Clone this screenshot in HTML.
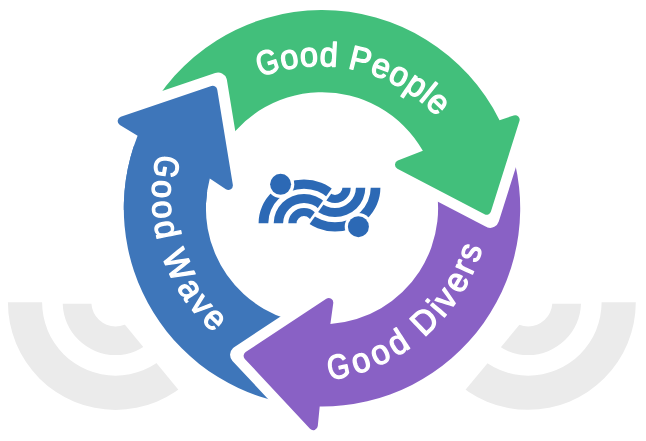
<!DOCTYPE html>
<html><head><meta charset="utf-8"><style>
html,body{margin:0;padding:0;background:#fff;}
body{width:646px;height:441px;overflow:hidden;font-family:"Liberation Sans",sans-serif;}
svg{display:block}
</style></head><body>
<svg width="646" height="441" viewBox="0 0 646 441">
<defs>
<clipPath id="cl"><path d="M-32.20,133.60 L284.00,518.20 L-400.0,518.2 L-400.0,133.6 Z"/></clipPath>
<clipPath id="cr"><path d="M678.20,133.80 L359.00,517.80 L1100.0,517.8 L1100.0,133.8 Z"/></clipPath>
<clipPath id="q"><rect x="0" y="0" width="322" height="210"/></clipPath>
<clipPath id="lg1"><path d="M204.00,367.57 L436.28,41.92 L192.05,-132.29 L-40.23,193.36 Z"/></clipPath>
<clipPath id="lg2"><path d="M206.12,369.08 L438.40,43.43 L682.63,217.64 L450.35,543.29 Z"/></clipPath>
<mask id="dm" maskUnits="userSpaceOnUse" x="0" y="0" width="646" height="441"><rect width="646" height="441" fill="#fff"/><circle cx="280.60" cy="184.30" r="13.7" fill="#000"/><circle cx="358.40" cy="226.70" r="13.7" fill="#000"/></mask>
<path id="a1" d="M196.43,135.80 A145.00,145.00 0 0 1 467.00,208.30"/>
<path id="a2" d="M193.30,316.29 A168.00,168.00 0 0 0 467.49,124.30"/>
<path id="a3" d="M264.54,50.43 A168.00,168.00 0 0 0 351.17,373.75"/>
<path id="pb" d="M304.73,405.75 A198.20,198.20 0 0 1 137.59,135.66 L119.86,124.91 A4.5,4.5 0 0 1 120.75,116.80 L211.37,86.10 A4.5,4.5 0 0 1 217.26,89.64 L232.83,184.71 A4.5,4.5 0 0 1 225.90,189.18 L209.80,178.48 A116.10,116.10 0 0 0 311.88,323.96 Z"/>
<path id="pp" d="M508.25,140.51 A198.20,198.20 0 0 1 319.70,406.49 L317.78,426.09 A4.5,4.5 0 0 1 310.01,428.72 L244.83,358.89 A4.5,4.5 0 0 1 245.65,352.07 L326.31,298.87 A4.5,4.5 0 0 1 333.25,303.24 L330.38,324.10 A116.10,116.10 0 0 0 431.10,168.59 Z"/>
<path id="pg" d="M143.86,121.41 A198.20,198.20 0 0 1 499.54,120.18 L513.72,115.42 A4.5,4.5 0 0 1 519.44,121.04 L490.91,211.58 A4.5,4.5 0 0 1 484.54,214.22 L397.38,168.77 A4.5,4.5 0 0 1 397.82,160.59 L422.86,150.80 A116.10,116.10 0 0 0 217.65,157.41 Z"/>
</defs>
<rect width="646" height="441" fill="#fff"/>
<g fill="#ebebeb" clip-path="url(#cl)">
<path d="M62.72,303.70 A52.80,52.80 0 0 0 168.28,303.70 L139.56,303.70 A24.10,24.10 0 0 1 91.44,303.70 Z"/>
<path d="M7.90,302.30 A107.60,107.60 0 0 0 223.10,302.30 L188.90,302.30 A73.40,73.40 0 0 1 42.10,302.30 Z"/>
</g>
<g fill="#ebebeb" clip-path="url(#cr)">
<path d="M475.42,303.70 A52.80,52.80 0 0 0 580.98,303.70 L552.26,303.70 A24.10,24.10 0 0 1 504.14,303.70 Z"/>
<path d="M420.60,302.30 A107.60,107.60 0 0 0 635.80,302.30 L601.60,302.30 A73.40,73.40 0 0 1 454.80,302.30 Z"/>
</g>
<g stroke-linejoin="round">
<use href="#pb" fill="#3e76ba"/>
<path d="M317.82,439.14 L239.05,354.74 L336.37,290.56Z" fill="#fff" stroke="#fff" stroke-width="18.0"/>
<use href="#pp" fill="#8961c5"/>
<path d="M524.47,110.08 L490.19,218.86 L384.97,164.00Z" fill="#fff" stroke="#fff" stroke-width="18.0"/>
<use href="#pg" fill="#42bf7b"/>
<g clip-path="url(#q)">
<path d="M106.67,119.35 L218.07,81.62 L237.31,199.08Z" fill="#fff" stroke="#fff" stroke-width="18.0"/>
<use href="#pb" fill="#3e76ba"/>
</g>
</g>
<g fill="#fff" stroke="#fff" stroke-width="1.4" stroke-linejoin="round">
<path d="M258.16,65.00 L257.68,63.24 L257.37,61.57 L257.25,59.99 L257.30,58.51 L257.52,57.13 L257.93,55.84 L258.50,54.66 L259.23,53.61 L260.12,52.69 L261.18,51.91 L262.39,51.26 L263.76,50.73 L264.76,50.46 L265.72,50.27 L266.63,50.18 L267.51,50.17 L268.34,50.25 L269.13,50.43 L269.89,50.69 L270.62,51.06 L271.33,51.52 L272.02,52.09 L272.69,52.75 L273.33,53.51 L271.22,55.11 L270.75,54.59 L270.27,54.14 L269.77,53.76 L269.25,53.45 L268.72,53.20 L268.18,53.02 L267.62,52.90 L267.03,52.85 L266.43,52.85 L265.80,52.92 L265.14,53.04 L264.47,53.23 L263.47,53.61 L262.59,54.10 L261.84,54.69 L261.21,55.39 L260.70,56.19 L260.32,57.09 L260.07,58.09 L259.94,59.16 L259.94,60.31 L260.06,61.53 L260.32,62.83 L260.70,64.21 L261.17,65.55 L261.72,66.77 L262.33,67.85 L263.01,68.80 L263.76,69.63 L264.58,70.32 L265.45,70.87 L266.36,71.26 L267.30,71.49 L268.27,71.55 L269.27,71.46 L270.31,71.21 L270.90,71.01 L271.47,70.77 L272.01,70.50 L272.52,70.19 L273.01,69.86 L273.48,69.49 L273.91,69.10 L274.30,68.69 L274.65,68.26 L274.95,67.82 L275.22,67.36 L275.44,66.89 L274.18,62.86 L271.42,63.73 L268.67,64.59 L267.87,62.06 L271.78,60.83 L275.69,59.61 L276.90,63.46 L278.10,67.31 L277.78,68.04 L277.40,68.75 L276.98,69.42 L276.50,70.06 L275.97,70.66 L275.39,71.23 L274.76,71.76 L274.10,72.24 L273.40,72.67 L272.67,73.05 L271.89,73.38 L271.08,73.67 L270.13,73.92 L269.19,74.09 L268.28,74.16 L267.39,74.15 L266.51,74.04 L265.66,73.84 L264.83,73.55 L264.04,73.18 L263.28,72.72 L262.55,72.17 L261.86,71.54 L261.20,70.83 L260.58,70.03 L260.00,69.17 L259.47,68.23 L258.99,67.23 L258.55,66.15 L258.16,65.00Z M296.85,58.29 L297.06,59.78 L297.14,61.16 L297.08,62.42 L296.90,63.58 L296.58,64.62 L296.14,65.55 L295.57,66.36 L294.87,67.07 L294.06,67.67 L293.13,68.16 L292.08,68.55 L290.91,68.82 L289.72,68.97 L288.61,68.96 L287.57,68.81 L286.61,68.50 L285.73,68.05 L284.93,67.45 L284.20,66.71 L283.56,65.83 L283.00,64.81 L282.53,63.67 L282.14,62.38 L281.83,60.96 L281.54,58.13 L281.76,55.73 L282.49,53.76 L283.73,52.23 L285.48,51.13 L287.73,50.47 L288.97,50.31 L290.12,50.30 L291.17,50.43 L292.14,50.70 L293.01,51.12 L293.80,51.69 L294.50,52.40 L295.12,53.27 L295.67,54.29 L296.14,55.47 L296.53,56.80 L296.85,58.29Z M293.91,58.81 L293.68,57.65 L293.40,56.61 L293.09,55.69 L292.74,54.90 L292.36,54.23 L291.93,53.67 L291.46,53.23 L290.92,52.90 L290.33,52.68 L289.67,52.55 L288.95,52.54 L288.17,52.63 L287.39,52.82 L286.71,53.08 L286.13,53.43 L285.63,53.86 L285.23,54.37 L284.92,54.96 L284.69,55.63 L284.55,56.40 L284.48,57.27 L284.50,58.23 L284.59,59.29 L284.77,60.44 L285.00,61.55 L285.27,62.56 L285.58,63.45 L285.94,64.24 L286.34,64.93 L286.78,65.50 L287.27,65.97 L287.81,66.32 L288.40,66.57 L289.05,66.71 L289.74,66.74 L290.49,66.65 L291.28,66.46 L291.97,66.19 L292.57,65.84 L293.07,65.41 L293.47,64.90 L293.78,64.31 L294.00,63.63 L294.14,62.86 L294.20,61.99 L294.18,61.03 L294.09,59.96 L293.91,58.81Z M316.57,56.82 L316.61,58.33 L316.53,59.71 L316.33,60.96 L316.01,62.08 L315.58,63.08 L315.03,63.95 L314.37,64.70 L313.60,65.32 L312.72,65.83 L311.74,66.21 L310.65,66.47 L309.46,66.60 L308.26,66.61 L307.15,66.48 L306.14,66.20 L305.23,65.79 L304.40,65.24 L303.67,64.55 L303.04,63.73 L302.50,62.78 L302.07,61.71 L301.73,60.52 L301.49,59.19 L301.35,57.75 L301.39,54.90 L301.88,52.54 L302.83,50.67 L304.24,49.29 L306.10,48.40 L308.42,48.00 L309.66,47.99 L310.81,48.11 L311.84,48.36 L312.77,48.75 L313.59,49.27 L314.30,49.92 L314.91,50.71 L315.43,51.64 L315.86,52.72 L316.19,53.94 L316.43,55.31 L316.57,56.82Z M313.59,57.00 L313.49,55.82 L313.34,54.76 L313.14,53.81 L312.88,52.98 L312.58,52.27 L312.22,51.67 L311.80,51.18 L311.31,50.79 L310.74,50.50 L310.10,50.30 L309.39,50.20 L308.60,50.21 L307.81,50.30 L307.10,50.49 L306.48,50.76 L305.94,51.13 L305.48,51.59 L305.11,52.14 L304.80,52.79 L304.57,53.53 L304.41,54.39 L304.31,55.34 L304.28,56.40 L304.32,57.57 L304.42,58.70 L304.58,59.73 L304.79,60.66 L305.05,61.48 L305.37,62.21 L305.74,62.83 L306.17,63.35 L306.67,63.77 L307.23,64.08 L307.85,64.29 L308.54,64.40 L309.29,64.40 L310.10,64.30 L310.82,64.12 L311.45,63.84 L312.00,63.47 L312.46,63.01 L312.83,62.46 L313.12,61.81 L313.35,61.05 L313.51,60.20 L313.61,59.24 L313.64,58.17 L313.59,57.00Z M332.34,63.55 L332.04,64.08 L331.71,64.55 L331.35,64.98 L330.96,65.34 L330.56,65.65 L330.12,65.90 L329.66,66.10 L329.16,66.26 L328.64,66.38 L328.08,66.45 L327.48,66.48 L326.86,66.47 L325.83,66.35 L324.91,66.11 L324.09,65.74 L323.37,65.26 L322.75,64.65 L322.24,63.92 L321.82,63.07 L321.49,62.09 L321.26,60.98 L321.11,59.75 L321.06,58.39 L321.10,56.91 L321.43,54.05 L322.08,51.73 L323.05,49.96 L324.35,48.72 L325.96,48.03 L327.88,47.87 L328.51,47.93 L329.10,48.02 L329.65,48.16 L330.16,48.33 L330.64,48.54 L331.07,48.79 L331.47,49.09 L331.84,49.43 L332.18,49.82 L332.49,50.26 L332.77,50.75 L333.02,51.28 L333.05,51.28 L333.13,49.27 L333.34,45.55 L333.54,41.83 L336.37,41.99 L336.18,45.47 L335.99,48.95 L335.80,52.44 L335.61,55.92 L335.42,59.41 L335.22,62.89 L335.18,63.77 L335.14,64.55 L335.12,65.22 L335.11,65.78 L335.10,66.24 L335.11,66.59 L332.41,66.44 L332.40,66.33 L332.39,66.19 L332.38,66.00 L332.38,65.78 L332.37,65.51 L332.37,65.21 L332.37,64.90 L332.37,64.60 L332.38,64.31 L332.39,64.04 L332.40,63.79 L332.41,63.55Z M324.08,56.97 L324.04,58.17 L324.06,59.25 L324.14,60.21 L324.28,61.06 L324.47,61.80 L324.73,62.41 L325.05,62.93 L325.44,63.36 L325.90,63.70 L326.44,63.95 L327.04,64.12 L327.71,64.21 L328.48,64.20 L329.18,64.09 L329.81,63.88 L330.38,63.57 L330.88,63.16 L331.30,62.64 L331.67,62.02 L331.98,61.29 L332.24,60.44 L332.45,59.49 L332.60,58.42 L332.69,57.25 L332.72,56.11 L332.69,55.08 L332.59,54.14 L332.42,53.32 L332.19,52.59 L331.89,51.97 L331.52,51.44 L331.07,51.00 L330.55,50.64 L329.95,50.38 L329.27,50.20 L328.52,50.12 L327.84,50.13 L327.21,50.23 L326.65,50.43 L326.15,50.73 L325.71,51.12 L325.33,51.61 L325.01,52.21 L324.73,52.93 L324.50,53.76 L324.31,54.71 L324.17,55.78 L324.08,56.97Z M370.51,56.89 L370.20,57.92 L369.80,58.84 L369.30,59.66 L368.71,60.39 L368.03,61.01 L367.25,61.53 L366.41,61.94 L365.50,62.22 L364.55,62.38 L363.54,62.41 L362.47,62.32 L361.36,62.10 L358.19,61.32 L355.02,60.55 L353.93,64.97 L352.85,69.40 L349.92,68.68 L350.72,65.44 L351.51,62.19 L352.31,58.94 L353.10,55.70 L353.90,52.45 L354.69,49.21 L355.49,45.96 L360.03,47.08 L364.57,48.19 L365.73,48.52 L366.76,48.94 L367.68,49.43 L368.49,49.99 L369.18,50.64 L369.76,51.36 L370.21,52.14 L370.53,52.98 L370.72,53.88 L370.78,54.83 L370.71,55.83 L370.51,56.89Z M367.56,56.20 L367.75,54.82 L367.60,53.62 L367.12,52.59 L366.29,51.74 L365.12,51.07 L363.62,50.57 L357.81,49.15 L356.71,53.63 L355.61,58.11 L361.54,59.56 L363.07,59.81 L364.39,59.73 L365.50,59.33 L366.40,58.61 L367.08,57.56 L367.56,56.20Z M376.13,67.32 L375.80,68.26 L375.57,69.15 L375.43,69.98 L375.38,70.77 L375.42,71.51 L375.55,72.20 L375.77,72.84 L376.09,73.41 L376.49,73.92 L376.99,74.36 L377.58,74.73 L378.26,75.05 L378.82,75.24 L379.36,75.38 L379.88,75.46 L380.37,75.49 L380.85,75.46 L381.30,75.38 L381.72,75.25 L382.12,75.09 L382.49,74.89 L382.82,74.66 L383.13,74.38 L383.41,74.08 L385.47,75.67 L384.43,76.66 L383.27,77.35 L381.99,77.75 L380.59,77.84 L379.08,77.64 L377.45,77.14 L376.34,76.64 L375.38,76.06 L374.55,75.38 L373.87,74.63 L373.33,73.78 L372.93,72.85 L372.67,71.83 L372.56,70.74 L372.60,69.56 L372.79,68.31 L373.13,66.97 L373.62,65.55 L374.18,64.24 L374.80,63.08 L375.49,62.06 L376.24,61.19 L377.05,60.47 L377.92,59.90 L378.84,59.48 L379.80,59.21 L380.80,59.10 L381.84,59.15 L382.92,59.35 L384.05,59.72 L386.09,60.79 L387.56,62.21 L388.45,63.97 L388.76,66.08 L388.49,68.53 L387.63,71.33 L387.49,71.70Z M385.58,68.51 L385.80,67.63 L385.96,66.81 L386.03,66.05 L386.02,65.35 L385.94,64.72 L385.79,64.15 L385.55,63.63 L385.24,63.16 L384.85,62.74 L384.38,62.36 L383.83,62.04 L383.21,61.76 L382.57,61.56 L381.95,61.45 L381.35,61.43 L380.76,61.51 L380.19,61.68 L379.63,61.94 L379.10,62.28 L378.60,62.71 L378.14,63.21 L377.72,63.80 L377.33,64.46 L376.98,65.20Z M405.43,80.08 L404.68,81.39 L403.90,82.53 L403.08,83.49 L402.23,84.29 L401.34,84.92 L400.42,85.38 L399.47,85.68 L398.49,85.82 L397.48,85.79 L396.44,85.61 L395.37,85.27 L394.28,84.77 L393.25,84.15 L392.38,83.47 L391.65,82.71 L391.08,81.88 L390.66,80.99 L390.39,80.02 L390.28,78.99 L390.31,77.90 L390.49,76.76 L390.82,75.56 L391.30,74.30 L391.92,72.99 L393.43,70.58 L395.08,68.82 L396.86,67.71 L398.77,67.26 L400.83,67.46 L403.02,68.32 L404.09,68.95 L405.01,69.64 L405.76,70.40 L406.35,71.20 L406.79,72.07 L407.06,73.00 L407.18,73.99 L407.14,75.06 L406.94,76.20 L406.59,77.42 L406.09,78.71 L405.43,80.08Z M402.79,78.70 L403.31,77.63 L403.73,76.65 L404.05,75.73 L404.26,74.89 L404.37,74.12 L404.37,73.42 L404.27,72.79 L404.05,72.20 L403.71,71.65 L403.27,71.15 L402.71,70.70 L402.03,70.29 L401.31,69.97 L400.61,69.76 L399.93,69.68 L399.28,69.71 L398.65,69.87 L398.04,70.14 L397.45,70.54 L396.86,71.06 L396.28,71.70 L395.70,72.47 L395.13,73.36 L394.56,74.38 L394.06,75.40 L393.66,76.36 L393.36,77.26 L393.16,78.10 L393.06,78.89 L393.05,79.62 L393.16,80.28 L393.36,80.90 L393.68,81.46 L394.10,81.96 L394.64,82.41 L395.28,82.80 L396.02,83.13 L396.73,83.34 L397.42,83.43 L398.08,83.40 L398.71,83.24 L399.31,82.96 L399.90,82.56 L400.49,82.04 L401.07,81.39 L401.65,80.61 L402.22,79.72 L402.79,78.70Z M421.95,90.95 L420.19,93.22 L418.43,94.87 L416.68,95.89 L414.94,96.28 L413.20,96.04 L411.47,95.18 L410.49,94.40 L409.73,93.57 L409.19,92.67 L408.86,91.72 L408.75,90.70 L408.85,89.61 L408.79,89.57 L408.74,89.67 L408.60,89.90 L408.39,90.23 L408.09,90.68 L407.71,91.25 L407.25,91.94 L405.27,94.84 L403.29,97.74 L400.95,96.14 L402.95,93.20 L404.95,90.26 L406.96,87.32 L408.96,84.38 L410.97,81.44 L412.97,78.50 L413.46,77.78 L413.89,77.14 L414.25,76.58 L414.55,76.11 L414.78,75.72 L414.96,75.41 L417.23,76.96 L417.21,76.99 L417.19,77.03 L417.16,77.09 L417.11,77.17 L417.06,77.27 L417.00,77.38 L416.92,77.50 L416.84,77.65 L416.74,77.82 L416.62,78.01 L416.49,78.22 L416.35,78.45 L416.21,78.68 L416.08,78.88 L415.97,79.06 L415.88,79.21 L415.80,79.33 L415.73,79.43 L415.78,79.47 L416.30,79.18 L416.81,78.95 L417.32,78.78 L417.82,78.66 L418.32,78.59 L418.81,78.59 L419.30,78.64 L419.81,78.75 L420.33,78.92 L420.86,79.15 L421.40,79.45 L421.95,79.80 L422.75,80.42 L423.40,81.09 L423.92,81.81 L424.29,82.58 L424.51,83.41 L424.60,84.29 L424.53,85.23 L424.32,86.24 L423.95,87.31 L423.44,88.46 L422.77,89.67 L421.95,90.95Z M419.45,89.32 L420.10,88.32 L420.64,87.39 L421.06,86.53 L421.38,85.73 L421.58,85.01 L421.67,84.35 L421.66,83.74 L421.54,83.18 L421.33,82.65 L421.00,82.16 L420.58,81.71 L420.05,81.30 L419.59,81.01 L419.14,80.78 L418.70,80.60 L418.28,80.49 L417.86,80.43 L417.45,80.42 L417.04,80.48 L416.63,80.58 L416.22,80.74 L415.80,80.95 L415.37,81.22 L414.94,81.54 L414.50,81.91 L414.05,82.34 L413.60,82.83 L413.14,83.38 L412.68,83.99 L412.20,84.66 L411.59,85.61 L411.09,86.51 L410.69,87.35 L410.41,88.15 L410.23,88.89 L410.15,89.58 L410.19,90.22 L410.34,90.83 L410.61,91.41 L410.99,91.95 L411.48,92.45 L412.09,92.92 L412.67,93.27 L413.25,93.50 L413.83,93.62 L414.41,93.62 L414.98,93.52 L415.56,93.31 L416.14,92.98 L416.76,92.51 L417.39,91.91 L418.05,91.18 L418.74,90.32 L419.45,89.32Z M419.97,101.06 L422.18,98.32 L424.38,95.58 L426.59,92.84 L428.80,90.10 L431.01,87.36 L433.22,84.62 L435.43,81.88 L437.64,83.66 L435.43,86.40 L433.22,89.14 L431.01,91.88 L428.80,94.62 L426.60,97.36 L424.39,100.10 L422.18,102.84Z M433.31,101.32 L432.66,102.07 L432.10,102.80 L431.65,103.52 L431.31,104.23 L431.06,104.93 L430.92,105.62 L430.88,106.29 L430.96,106.94 L431.14,107.56 L431.43,108.16 L431.83,108.73 L432.34,109.28 L432.79,109.67 L433.24,110.00 L433.68,110.28 L434.13,110.49 L434.58,110.65 L435.03,110.74 L435.47,110.79 L435.90,110.78 L436.31,110.74 L436.71,110.65 L437.10,110.52 L437.48,110.34 L438.78,112.60 L437.43,113.12 L436.10,113.31 L434.77,113.19 L433.44,112.75 L432.12,111.99 L430.80,110.90 L429.97,110.02 L429.30,109.11 L428.79,108.18 L428.45,107.22 L428.27,106.23 L428.25,105.22 L428.40,104.18 L428.71,103.12 L429.20,102.05 L429.85,100.96 L430.67,99.86 L431.66,98.73 L432.68,97.73 L433.70,96.90 L434.72,96.22 L435.74,95.70 L436.77,95.34 L437.79,95.14 L438.80,95.10 L439.79,95.22 L440.76,95.50 L441.70,95.94 L442.63,96.54 L443.53,97.30 L445.01,99.07 L445.83,100.94 L445.98,102.91 L445.47,104.98 L444.28,107.14 L442.43,109.40 L442.15,109.69Z M441.60,106.01 L442.14,105.28 L442.60,104.58 L442.95,103.91 L443.21,103.27 L443.38,102.65 L443.45,102.06 L443.43,101.49 L443.32,100.94 L443.12,100.40 L442.83,99.88 L442.45,99.37 L441.98,98.87 L441.46,98.44 L440.93,98.11 L440.38,97.86 L439.81,97.71 L439.21,97.65 L438.60,97.68 L437.98,97.79 L437.36,98.00 L436.74,98.29 L436.13,98.67 L435.52,99.13 L434.91,99.68Z"/>
<path d="M328.93,368.38 L328.62,366.58 L328.48,364.89 L328.51,363.31 L328.70,361.84 L329.06,360.48 L329.59,359.23 L330.27,358.11 L331.10,357.14 L332.08,356.32 L333.20,355.64 L334.47,355.11 L335.89,354.72 L336.91,354.54 L337.88,354.45 L338.80,354.44 L339.67,354.52 L340.49,354.69 L341.26,354.93 L341.99,355.27 L342.68,355.71 L343.35,356.24 L343.98,356.87 L344.58,357.59 L345.14,358.41 L342.88,359.80 L342.47,359.24 L342.03,358.74 L341.57,358.32 L341.09,357.95 L340.59,357.65 L340.06,357.42 L339.52,357.25 L338.94,357.14 L338.33,357.09 L337.70,357.09 L337.04,357.15 L336.35,357.27 L335.32,357.56 L334.39,357.96 L333.59,358.48 L332.89,359.11 L332.31,359.85 L331.85,360.72 L331.50,361.68 L331.26,362.73 L331.15,363.88 L331.16,365.11 L331.29,366.42 L331.53,367.83 L331.87,369.22 L332.30,370.48 L332.81,371.62 L333.39,372.63 L334.06,373.52 L334.81,374.29 L335.62,374.92 L336.48,375.40 L337.40,375.72 L338.36,375.88 L339.37,375.89 L340.42,375.74 L341.03,375.59 L341.62,375.41 L342.18,375.19 L342.72,374.94 L343.24,374.65 L343.74,374.33 L344.21,373.98 L344.63,373.61 L345.02,373.22 L345.37,372.81 L345.68,372.38 L345.95,371.93 L345.08,367.80 L342.26,368.40 L339.43,368.99 L338.88,366.39 L342.89,365.55 L346.90,364.71 L347.73,368.66 L348.56,372.60 L348.16,373.31 L347.72,373.97 L347.23,374.60 L346.69,375.19 L346.11,375.73 L345.47,376.25 L344.80,376.71 L344.10,377.12 L343.36,377.48 L342.59,377.79 L341.79,378.05 L340.95,378.25 L339.98,378.42 L339.03,378.49 L338.11,378.48 L337.23,378.37 L336.37,378.18 L335.54,377.90 L334.74,377.53 L333.99,377.08 L333.27,376.55 L332.60,375.94 L331.98,375.24 L331.39,374.47 L330.85,373.62 L330.36,372.70 L329.92,371.72 L329.54,370.67 L329.21,369.56 L328.93,368.38Z M368.48,360.39 L368.93,361.83 L369.22,363.17 L369.37,364.43 L369.38,365.60 L369.23,366.68 L368.94,367.67 L368.51,368.57 L367.94,369.38 L367.23,370.10 L366.39,370.73 L365.41,371.28 L364.30,371.74 L363.15,372.07 L362.05,372.24 L361.01,372.25 L360.01,372.11 L359.07,371.80 L358.18,371.34 L357.34,370.72 L356.57,369.95 L355.86,369.04 L355.21,367.98 L354.62,366.78 L354.09,365.43 L353.35,362.68 L353.18,360.27 L353.59,358.21 L354.56,356.50 L356.11,355.14 L358.23,354.12 L359.43,353.77 L360.56,353.58 L361.62,353.54 L362.62,353.65 L363.55,353.93 L364.42,354.36 L365.22,354.95 L365.97,355.71 L366.68,356.63 L367.33,357.72 L367.93,358.97 L368.48,360.39Z M365.67,361.37 L365.25,360.26 L364.81,359.28 L364.36,358.43 L363.89,357.70 L363.40,357.10 L362.89,356.62 L362.35,356.26 L361.77,356.02 L361.15,355.89 L360.48,355.88 L359.76,355.98 L359.01,356.19 L358.28,356.50 L357.65,356.87 L357.12,357.31 L356.70,357.81 L356.39,358.37 L356.17,359.01 L356.06,359.71 L356.04,360.49 L356.11,361.36 L356.28,362.31 L356.54,363.33 L356.90,364.44 L357.30,365.50 L357.73,366.45 L358.19,367.29 L358.67,368.01 L359.17,368.62 L359.70,369.12 L360.26,369.50 L360.85,369.77 L361.47,369.91 L362.13,369.95 L362.82,369.86 L363.54,369.66 L364.29,369.35 L364.93,368.97 L365.46,368.53 L365.89,368.03 L366.21,367.46 L366.42,366.83 L366.52,366.12 L366.54,365.34 L366.46,364.47 L366.29,363.52 L366.02,362.49 L365.67,361.37Z M387.56,351.46 L388.17,352.83 L388.62,354.14 L388.92,355.37 L389.06,356.53 L389.04,357.62 L388.87,358.63 L388.54,359.58 L388.07,360.45 L387.45,361.25 L386.69,361.98 L385.79,362.63 L384.73,363.22 L383.63,363.68 L382.56,363.98 L381.52,364.12 L380.52,364.09 L379.55,363.89 L378.61,363.54 L377.71,363.02 L376.85,362.35 L376.04,361.53 L375.27,360.55 L374.54,359.43 L373.85,358.14 L372.80,355.50 L372.35,353.13 L372.51,351.04 L373.28,349.23 L374.66,347.69 L376.65,346.43 L377.80,345.94 L378.90,345.62 L379.95,345.45 L380.95,345.46 L381.91,345.62 L382.82,345.95 L383.69,346.44 L384.52,347.10 L385.33,347.94 L386.10,348.94 L386.85,350.11 L387.56,351.46Z M384.88,352.76 L384.34,351.71 L383.79,350.79 L383.24,349.99 L382.68,349.32 L382.13,348.78 L381.57,348.37 L380.99,348.07 L380.39,347.90 L379.75,347.85 L379.08,347.91 L378.39,348.10 L377.66,348.40 L376.97,348.79 L376.39,349.23 L375.92,349.73 L375.56,350.27 L375.31,350.87 L375.18,351.52 L375.15,352.23 L375.22,353.02 L375.39,353.87 L375.67,354.79 L376.05,355.78 L376.53,356.84 L377.06,357.84 L377.59,358.74 L378.14,359.51 L378.70,360.17 L379.27,360.72 L379.86,361.15 L380.46,361.47 L381.08,361.66 L381.71,361.74 L382.37,361.69 L383.04,361.53 L383.74,361.25 L384.45,360.85 L385.04,360.40 L385.52,359.90 L385.88,359.35 L386.13,358.75 L386.26,358.09 L386.29,357.38 L386.21,356.60 L386.03,355.74 L385.75,354.82 L385.37,353.83 L384.88,352.76Z M405.69,347.47 L405.75,348.08 L405.76,348.67 L405.72,349.22 L405.62,349.74 L405.47,350.22 L405.27,350.68 L405.01,351.12 L404.70,351.54 L404.35,351.94 L403.93,352.33 L403.47,352.70 L402.96,353.06 L402.06,353.56 L401.17,353.90 L400.29,354.09 L399.42,354.12 L398.57,353.99 L397.72,353.70 L396.88,353.25 L396.04,352.65 L395.20,351.89 L394.36,350.98 L393.53,349.91 L392.69,348.68 L391.28,346.17 L390.45,343.92 L390.20,341.91 L390.52,340.15 L391.42,338.64 L392.89,337.39 L393.43,337.06 L393.96,336.80 L394.49,336.58 L395.00,336.42 L395.51,336.32 L396.01,336.27 L396.51,336.27 L397.01,336.33 L397.52,336.45 L398.02,336.62 L398.53,336.85 L399.05,337.14 L399.07,337.12 L397.96,335.45 L395.95,332.31 L393.93,329.18 L396.32,327.64 L398.21,330.58 L400.09,333.51 L401.98,336.45 L403.86,339.38 L405.75,342.32 L407.64,345.25 L408.12,346.00 L408.54,346.64 L408.92,347.20 L409.24,347.66 L409.50,348.04 L409.72,348.32 L407.44,349.78 L407.36,349.70 L407.27,349.59 L407.16,349.44 L407.02,349.26 L406.86,349.05 L406.69,348.81 L406.50,348.55 L406.33,348.31 L406.17,348.07 L406.01,347.85 L405.87,347.64 L405.74,347.44Z M395.14,346.99 L395.81,347.98 L396.46,348.85 L397.09,349.58 L397.70,350.19 L398.29,350.67 L398.85,351.02 L399.42,351.25 L399.98,351.36 L400.56,351.37 L401.14,351.27 L401.73,351.05 L402.32,350.72 L402.94,350.27 L403.45,349.77 L403.84,349.23 L404.11,348.64 L404.27,348.02 L404.32,347.35 L404.25,346.63 L404.07,345.85 L403.79,345.02 L403.39,344.13 L402.89,343.18 L402.28,342.17 L401.64,341.23 L401.00,340.41 L400.38,339.71 L399.76,339.14 L399.14,338.69 L398.54,338.36 L397.93,338.14 L397.31,338.05 L396.68,338.07 L396.03,338.21 L395.38,338.46 L394.72,338.83 L394.17,339.24 L393.73,339.69 L393.39,340.18 L393.16,340.72 L393.03,341.29 L393.01,341.91 L393.10,342.59 L393.29,343.33 L393.60,344.14 L394.00,345.02 L394.52,345.97 L395.14,346.99Z M431.54,313.89 L432.33,314.76 L433.03,315.66 L433.65,316.57 L434.17,317.49 L434.61,318.43 L434.96,319.39 L435.21,320.34 L435.38,321.29 L435.45,322.24 L435.42,323.17 L435.30,324.10 L435.09,325.02 L434.79,325.92 L434.40,326.79 L433.93,327.63 L433.37,328.45 L432.72,329.23 L431.99,329.99 L428.99,332.87 L425.99,335.74 L423.68,333.33 L421.37,330.92 L419.05,328.51 L416.74,326.09 L414.43,323.68 L412.12,321.27 L409.80,318.86 L412.46,316.32 L415.11,313.77 L416.47,312.58 L417.85,311.60 L419.23,310.85 L420.63,310.31 L422.04,309.99 L423.46,309.89 L424.87,310.01 L426.26,310.35 L427.62,310.90 L428.95,311.68 L430.26,312.67 L431.54,313.89Z M429.35,315.98 L428.35,315.02 L427.33,314.23 L426.29,313.61 L425.25,313.16 L424.20,312.87 L423.13,312.76 L422.06,312.82 L421.00,313.05 L419.95,313.44 L418.90,314.01 L417.86,314.74 L416.82,315.65 L413.74,318.61 L416.27,321.25 L418.81,323.89 L421.34,326.54 L423.87,329.18 L426.41,331.82 L429.98,328.40 L430.54,327.82 L431.03,327.22 L431.45,326.60 L431.80,325.96 L432.09,325.30 L432.30,324.61 L432.45,323.91 L432.53,323.20 L432.53,322.48 L432.46,321.76 L432.32,321.03 L432.11,320.29 L431.82,319.55 L431.47,318.82 L431.04,318.10 L430.55,317.39 L429.99,316.68 L429.35,315.98Z M427.89,302.80 L425.72,300.94 L427.57,298.78 L429.74,300.64Z M444.45,316.94 L441.72,314.61 L438.99,312.28 L436.26,309.94 L433.53,307.61 L430.80,305.28 L432.64,303.12 L435.37,305.45 L438.10,307.79 L440.84,310.12 L443.57,312.45 L446.30,314.79Z M455.22,303.31 L453.24,306.02 L449.61,304.91 L445.98,303.79 L442.34,302.67 L438.71,301.55 L435.08,300.43 L436.87,297.99 L440.75,299.28 L444.63,300.56 L448.52,301.85 L448.81,301.95 L449.23,302.11 L449.80,302.33 L450.51,302.59 L451.35,302.92 L452.34,303.29 L451.09,301.70 L449.87,300.05 L447.48,296.70 L445.09,293.35 L442.70,290.00 L444.47,287.57Z M456.15,286.86 L457.03,287.32 L457.87,287.69 L458.68,287.95 L459.45,288.12 L460.19,288.20 L460.89,288.17 L461.55,288.05 L462.16,287.82 L462.72,287.50 L463.24,287.07 L463.70,286.55 L464.11,285.92 L464.39,285.40 L464.60,284.88 L464.76,284.38 L464.87,283.90 L464.91,283.43 L464.90,282.97 L464.84,282.53 L464.74,282.11 L464.60,281.72 L464.41,281.35 L464.19,281.00 L463.93,280.68 L465.82,278.89 L466.64,280.07 L467.15,281.32 L467.34,282.64 L467.23,284.04 L466.80,285.50 L466.05,287.04 L465.40,288.06 L464.67,288.92 L463.88,289.64 L463.03,290.20 L462.11,290.61 L461.13,290.86 L460.09,290.96 L458.99,290.90 L457.83,290.69 L456.62,290.31 L455.35,289.77 L454.02,289.08 L452.81,288.32 L451.76,287.53 L450.86,286.70 L450.11,285.83 L449.52,284.92 L449.08,283.97 L448.81,283.00 L448.69,282.01 L448.73,281.00 L448.94,279.98 L449.30,278.94 L449.83,277.88 L451.20,276.02 L452.83,274.78 L454.70,274.17 L456.83,274.19 L459.22,274.83 L461.85,276.09 L462.20,276.29Z M458.75,277.70 L457.92,277.34 L457.13,277.07 L456.39,276.88 L455.70,276.78 L455.07,276.76 L454.48,276.83 L453.93,276.99 L453.42,277.23 L452.94,277.55 L452.50,277.96 L452.09,278.45 L451.72,279.02 L451.43,279.62 L451.23,280.21 L451.12,280.81 L451.11,281.40 L451.19,281.99 L451.36,282.58 L451.62,283.16 L451.97,283.72 L452.40,284.25 L452.91,284.75 L453.50,285.24 L454.18,285.70Z M472.45,274.11 L469.31,272.69 L466.17,271.27 L463.04,269.84 L459.90,268.42 L459.31,268.16 L458.71,267.89 L458.08,267.62 L457.42,267.34 L456.75,267.06 L456.05,266.78 L457.16,264.34 L458.04,264.69 L458.80,265.00 L459.42,265.26 L459.93,265.47 L460.30,265.63 L460.55,265.74 L460.58,265.68 L460.01,265.17 L459.52,264.68 L459.11,264.21 L458.78,263.77 L458.53,263.35 L458.35,262.96 L458.24,262.56 L458.20,262.15 L458.21,261.72 L458.28,261.28 L458.42,260.82 L458.61,260.34 L458.69,260.17 L458.78,260.00 L458.88,259.83 L458.99,259.67 L459.11,259.51 L459.24,259.36 L461.73,260.49 L461.60,260.65 L461.47,260.83 L461.34,261.04 L461.21,261.27 L461.08,261.52 L460.95,261.80 L460.76,262.33 L460.67,262.86 L460.67,263.38 L460.78,263.90 L460.99,264.41 L461.30,264.92 L461.70,265.41 L462.20,265.89 L462.78,266.36 L463.46,266.81 L464.23,267.24 L465.09,267.66 L469.36,269.59 L473.62,271.53Z M477.53,247.73 L478.28,248.05 L478.93,248.44 L479.50,248.90 L479.96,249.45 L480.34,250.06 L480.62,250.75 L480.80,251.50 L480.88,252.30 L480.87,253.15 L480.75,254.06 L480.54,255.01 L480.22,256.02 L479.86,256.97 L479.46,257.83 L479.03,258.59 L478.57,259.25 L478.08,259.82 L477.55,260.29 L476.99,260.66 L476.39,260.96 L475.75,261.16 L475.06,261.28 L474.33,261.32 L473.56,261.26 L473.90,258.73 L474.39,258.75 L474.84,258.71 L475.27,258.62 L475.67,258.47 L476.05,258.27 L476.40,258.02 L476.73,257.70 L477.03,257.33 L477.32,256.90 L477.59,256.42 L477.85,255.87 L478.08,255.26 L478.29,254.61 L478.44,254.00 L478.53,253.44 L478.57,252.93 L478.55,252.46 L478.47,252.05 L478.33,251.68 L478.14,251.34 L477.90,251.05 L477.60,250.80 L477.24,250.58 L476.83,250.41 L476.50,250.31 L476.18,250.26 L475.86,250.25 L475.56,250.29 L475.26,250.37 L474.97,250.49 L474.68,250.66 L474.39,250.88 L474.10,251.15 L473.80,251.46 L473.50,251.83 L473.19,252.24 L471.99,253.97 L471.52,254.63 L471.08,255.22 L470.67,255.73 L470.29,256.17 L469.93,256.53 L469.60,256.82 L469.28,257.06 L468.96,257.27 L468.63,257.46 L468.29,257.61 L467.95,257.74 L467.60,257.83 L467.25,257.90 L466.88,257.92 L466.50,257.91 L466.11,257.86 L465.71,257.77 L465.29,257.64 L464.57,257.33 L463.93,256.96 L463.39,256.53 L462.94,256.03 L462.58,255.46 L462.31,254.83 L462.14,254.13 L462.06,253.38 L462.08,252.58 L462.20,251.72 L462.41,250.80 L462.71,249.83 L463.04,248.98 L463.40,248.21 L463.80,247.52 L464.23,246.91 L464.69,246.39 L465.18,245.94 L465.72,245.58 L466.30,245.30 L466.92,245.11 L467.58,245.01 L468.29,244.99 L469.05,245.07 L468.51,247.59 L468.12,247.55 L467.74,247.57 L467.37,247.65 L467.02,247.77 L466.68,247.95 L466.36,248.18 L466.06,248.45 L465.77,248.78 L465.51,249.16 L465.26,249.58 L465.04,250.05 L464.84,250.57 L464.65,251.16 L464.52,251.70 L464.43,252.20 L464.39,252.66 L464.41,253.08 L464.48,253.46 L464.59,253.79 L464.76,254.10 L464.98,254.36 L465.24,254.59 L465.56,254.78 L465.93,254.94 L466.16,255.01 L466.39,255.06 L466.62,255.08 L466.83,255.08 L467.04,255.05 L467.24,255.00 L467.44,254.92 L467.64,254.83 L467.83,254.71 L468.03,254.57 L468.22,254.41 L468.41,254.22 L468.63,253.99 L468.89,253.67 L469.19,253.27 L469.53,252.80 L469.92,252.24 L470.36,251.60 L470.78,250.98 L471.18,250.44 L471.54,249.96 L471.88,249.54 L472.19,249.19 L472.48,248.90 L472.75,248.65 L473.01,248.43 L473.28,248.23 L473.54,248.06 L473.80,247.91 L474.06,247.79 L474.31,247.68 L474.58,247.60 L474.85,247.53 L475.12,247.47 L475.40,247.44 L475.69,247.42 L475.98,247.42 L476.28,247.44 L476.58,247.48 L476.89,247.54 L477.20,247.63 L477.53,247.73Z"/>
<path d="M168.15,157.60 L169.94,157.98 L171.57,158.47 L173.03,159.07 L174.32,159.79 L175.45,160.63 L176.42,161.57 L177.21,162.62 L177.80,163.75 L178.21,164.96 L178.43,166.26 L178.46,167.63 L178.30,169.09 L178.09,170.11 L177.82,171.05 L177.48,171.90 L177.09,172.69 L176.64,173.39 L176.13,174.01 L175.54,174.56 L174.88,175.05 L174.15,175.47 L173.33,175.83 L172.44,176.12 L171.47,176.35 L171.00,173.73 L171.68,173.55 L172.30,173.33 L172.87,173.06 L173.38,172.75 L173.84,172.39 L174.25,171.99 L174.61,171.54 L174.93,171.04 L175.20,170.50 L175.43,169.91 L175.61,169.27 L175.76,168.59 L175.87,167.52 L175.84,166.52 L175.65,165.57 L175.32,164.70 L174.84,163.88 L174.21,163.13 L173.44,162.45 L172.54,161.85 L171.52,161.33 L170.38,160.88 L169.10,160.51 L167.70,160.22 L166.29,160.04 L164.96,159.97 L163.72,160.02 L162.56,160.19 L161.48,160.48 L160.49,160.90 L159.61,161.42 L158.85,162.05 L158.22,162.78 L157.71,163.61 L157.34,164.55 L157.09,165.59 L157.00,166.21 L156.95,166.82 L156.95,167.42 L156.98,168.02 L157.06,168.61 L157.18,169.19 L157.33,169.75 L157.52,170.29 L157.74,170.79 L157.99,171.27 L158.28,171.71 L158.60,172.13 L162.75,172.84 L163.24,169.99 L163.73,167.14 L166.34,167.59 L165.65,171.63 L164.96,175.67 L160.99,174.99 L157.01,174.31 L156.50,173.68 L156.05,173.02 L155.64,172.34 L155.29,171.62 L155.00,170.88 L154.76,170.10 L154.57,169.30 L154.45,168.50 L154.38,167.68 L154.38,166.85 L154.43,166.01 L154.55,165.16 L154.76,164.19 L155.03,163.28 L155.39,162.44 L155.81,161.65 L156.30,160.92 L156.87,160.25 L157.50,159.65 L158.20,159.11 L158.95,158.64 L159.77,158.24 L160.65,157.91 L161.58,157.65 L162.57,157.46 L163.60,157.34 L164.68,157.30 L165.79,157.33 L166.95,157.43 L168.15,157.60Z M161.10,196.70 L159.59,196.58 L158.23,196.36 L157.01,196.04 L155.92,195.61 L154.97,195.08 L154.16,194.44 L153.48,193.71 L152.94,192.88 L152.53,191.96 L152.25,190.94 L152.10,189.83 L152.08,188.63 L152.20,187.44 L152.44,186.35 L152.82,185.38 L153.32,184.51 L153.95,183.74 L154.71,183.09 L155.59,182.54 L156.59,182.10 L157.70,181.77 L158.92,181.56 L160.26,181.45 L161.71,181.46 L164.54,181.79 L166.84,182.52 L168.60,183.65 L169.83,185.19 L170.53,187.13 L170.69,189.48 L170.58,190.72 L170.34,191.85 L169.99,192.85 L169.51,193.73 L168.91,194.50 L168.19,195.14 L167.35,195.67 L166.37,196.09 L165.25,196.41 L164.00,196.61 L162.61,196.71 L161.10,196.70Z M161.22,193.72 L162.40,193.74 L163.47,193.69 L164.43,193.59 L165.29,193.42 L166.03,193.19 L166.66,192.89 L167.19,192.52 L167.63,192.07 L167.98,191.54 L168.24,190.92 L168.41,190.22 L168.48,189.44 L168.47,188.64 L168.35,187.92 L168.14,187.27 L167.83,186.70 L167.42,186.20 L166.91,185.77 L166.30,185.40 L165.58,185.09 L164.75,184.84 L163.81,184.65 L162.75,184.52 L161.59,184.44 L160.46,184.42 L159.42,184.47 L158.47,184.59 L157.62,184.77 L156.87,185.01 L156.21,185.32 L155.65,185.70 L155.19,186.15 L154.82,186.67 L154.55,187.27 L154.37,187.94 L154.29,188.69 L154.31,189.50 L154.42,190.24 L154.63,190.89 L154.95,191.48 L155.36,191.98 L155.87,192.41 L156.48,192.77 L157.21,193.07 L158.05,193.32 L158.99,193.51 L160.05,193.64 L161.22,193.72Z M162.36,217.15 L160.85,217.21 L159.47,217.15 L158.22,216.97 L157.09,216.68 L156.08,216.26 L155.20,215.72 L154.45,215.07 L153.81,214.31 L153.29,213.45 L152.90,212.47 L152.62,211.39 L152.46,210.19 L152.44,209.00 L152.56,207.89 L152.81,206.88 L153.21,205.95 L153.75,205.12 L154.42,204.38 L155.24,203.73 L156.17,203.18 L157.24,202.73 L158.43,202.37 L159.75,202.11 L161.19,201.95 L164.04,201.94 L166.40,202.40 L168.29,203.32 L169.69,204.70 L170.61,206.55 L171.04,208.86 L171.08,210.11 L170.98,211.25 L170.74,212.29 L170.37,213.22 L169.86,214.05 L169.23,214.77 L168.45,215.40 L167.52,215.93 L166.45,216.37 L165.23,216.72 L163.87,216.98 L162.36,217.15Z M162.13,214.18 L163.31,214.06 L164.37,213.89 L165.31,213.67 L166.14,213.40 L166.84,213.09 L167.44,212.72 L167.92,212.29 L168.30,211.79 L168.59,211.22 L168.77,210.58 L168.86,209.86 L168.85,209.08 L168.74,208.29 L168.54,207.59 L168.25,206.97 L167.88,206.43 L167.41,205.98 L166.86,205.61 L166.21,205.32 L165.45,205.10 L164.60,204.95 L163.64,204.87 L162.58,204.86 L161.42,204.92 L160.29,205.03 L159.26,205.20 L158.34,205.43 L157.51,205.71 L156.80,206.04 L156.18,206.42 L155.67,206.86 L155.26,207.36 L154.95,207.93 L154.75,208.55 L154.66,209.24 L154.66,209.99 L154.77,210.80 L154.97,211.51 L155.26,212.14 L155.64,212.68 L156.11,213.14 L156.66,213.50 L157.32,213.79 L158.07,214.00 L158.93,214.15 L159.90,214.23 L160.96,214.24 L162.13,214.18Z M159.31,234.90 L158.72,234.73 L158.18,234.53 L157.68,234.29 L157.23,234.00 L156.83,233.68 L156.48,233.33 L156.17,232.93 L155.89,232.49 L155.65,232.01 L155.44,231.48 L155.27,230.92 L155.12,230.31 L154.99,229.28 L154.99,228.33 L155.14,227.44 L155.44,226.63 L155.87,225.88 L156.45,225.20 L157.18,224.58 L158.04,224.02 L159.06,223.52 L160.22,223.08 L161.52,222.69 L162.97,222.36 L165.82,221.98 L168.22,222.04 L170.18,222.54 L171.70,223.48 L172.77,224.87 L173.40,226.70 L173.50,227.32 L173.55,227.92 L173.56,228.48 L173.52,229.02 L173.43,229.53 L173.29,230.02 L173.10,230.48 L172.86,230.93 L172.57,231.35 L172.22,231.76 L171.82,232.15 L171.37,232.52 L171.37,232.55 L173.34,232.13 L176.99,231.41 L180.65,230.69 L181.20,233.48 L177.78,234.15 L174.35,234.83 L170.93,235.50 L167.51,236.18 L164.08,236.85 L160.66,237.53 L159.80,237.70 L159.04,237.86 L158.38,238.00 L157.83,238.13 L157.39,238.24 L157.05,238.34 L156.52,235.67 L156.62,235.64 L156.77,235.59 L156.94,235.54 L157.16,235.48 L157.41,235.41 L157.71,235.34 L158.01,235.26 L158.30,235.19 L158.58,235.12 L158.84,235.06 L159.09,235.01 L159.33,234.96Z M163.64,225.27 L162.47,225.53 L161.43,225.81 L160.51,226.13 L159.73,226.47 L159.06,226.84 L158.53,227.24 L158.11,227.68 L157.79,228.16 L157.57,228.69 L157.46,229.27 L157.44,229.90 L157.53,230.57 L157.73,231.32 L158.00,231.97 L158.36,232.53 L158.81,233.00 L159.33,233.38 L159.93,233.67 L160.63,233.87 L161.41,233.99 L162.29,234.03 L163.27,233.99 L164.34,233.88 L165.50,233.68 L166.61,233.43 L167.61,233.14 L168.48,232.81 L169.25,232.45 L169.89,232.04 L170.42,231.60 L170.84,231.11 L171.16,230.57 L171.37,229.97 L171.48,229.33 L171.48,228.63 L171.38,227.87 L171.20,227.21 L170.95,226.64 L170.61,226.14 L170.20,225.73 L169.71,225.40 L169.14,225.16 L168.48,224.99 L167.72,224.90 L166.86,224.88 L165.89,224.93 L164.82,225.06 L163.64,225.27Z M171.08,277.32 L169.63,274.03 L172.64,271.66 L175.65,269.28 L178.67,266.90 L181.68,264.53 L182.11,264.19 L182.64,263.79 L183.27,263.32 L184.01,262.78 L184.86,262.18 L185.81,261.50 L185.18,261.63 L184.59,261.76 L184.04,261.87 L183.52,261.98 L183.03,262.08 L182.58,262.17 L181.75,262.32 L180.12,262.59 L177.69,262.99 L174.47,263.51 L170.44,264.15 L165.62,264.92 L164.17,261.63 L166.86,259.43 L169.54,257.23 L172.22,255.03 L174.90,252.83 L177.58,250.62 L180.27,248.42 L182.95,246.22 L184.21,249.09 L181.21,251.50 L178.22,253.91 L175.22,256.32 L172.22,258.73 L171.46,259.32 L170.69,259.91 L169.90,260.49 L169.11,261.08 L168.30,261.66 L167.49,262.24 L168.11,262.11 L168.74,261.98 L169.40,261.85 L170.08,261.71 L170.77,261.58 L171.49,261.44 L172.56,261.25 L174.34,260.96 L176.82,260.56 L180.00,260.06 L183.88,259.46 L188.46,258.75 L189.62,261.39 L186.68,263.74 L183.74,266.09 L180.80,268.44 L177.85,270.79 L176.91,271.52 L176.01,272.20 L175.15,272.84 L174.35,273.44 L173.59,273.99 L172.88,274.50 L173.47,274.39 L174.09,274.27 L174.67,274.16 L175.21,274.05 L175.71,273.95 L176.18,273.86 L176.60,273.78 L177.41,273.63 L179.05,273.36 L181.52,272.97 L184.81,272.45 L188.92,271.80 L193.86,271.02 L195.12,273.90Z M179.79,293.12 L179.38,292.41 L179.07,291.71 L178.86,291.04 L178.77,290.37 L178.77,289.73 L178.88,289.10 L179.09,288.49 L179.39,287.91 L179.78,287.36 L180.25,286.84 L180.81,286.35 L181.47,285.88 L182.24,285.44 L183.01,285.11 L183.77,284.90 L184.52,284.82 L185.27,284.85 L186.01,285.01 L186.74,285.30 L187.47,285.73 L188.21,286.30 L188.94,287.01 L189.67,287.86 L190.41,288.86 L192.55,292.04 L193.37,291.50 L193.94,291.10 L194.43,290.70 L194.83,290.29 L195.14,289.88 L195.37,289.47 L195.52,289.05 L195.59,288.63 L195.58,288.18 L195.50,287.71 L195.34,287.23 L195.11,286.73 L194.80,286.21 L194.46,285.71 L194.11,285.28 L193.76,284.92 L193.42,284.63 L193.07,284.41 L192.72,284.25 L192.36,284.16 L191.99,284.13 L191.60,284.15 L191.19,284.23 L190.77,284.37 L190.33,284.56 L188.95,281.92 L190.41,281.45 L191.80,281.36 L193.13,281.68 L194.40,282.40 L195.60,283.51 L196.74,285.02 L197.27,285.91 L197.67,286.77 L197.95,287.60 L198.12,288.40 L198.16,289.18 L198.08,289.93 L197.88,290.65 L197.57,291.33 L197.15,291.99 L196.61,292.60 L195.96,293.19 L195.20,293.74 L191.95,295.84 L188.71,297.95 L188.36,298.19 L188.05,298.42 L187.78,298.65 L187.55,298.88 L187.36,299.10 L187.21,299.32 L187.11,299.54 L187.06,299.76 L187.05,300.00 L187.10,300.24 L187.19,300.49 L187.34,300.74 L187.41,300.86 L187.50,300.98 L187.60,301.09 L187.70,301.21 L187.82,301.34 L187.94,301.46 L186.38,302.47 L186.12,302.22 L185.86,301.95 L185.62,301.67 L185.39,301.38 L185.17,301.09 L184.96,300.78 L184.71,300.34 L184.52,299.92 L184.40,299.52 L184.35,299.12 L184.36,298.75 L184.44,298.38 L184.59,298.02 L184.80,297.66 L185.08,297.30 L185.42,296.94 L185.82,296.57 L186.29,296.21 L186.24,296.13 L185.49,296.17 L184.79,296.16 L184.13,296.10 L183.51,295.99 L182.94,295.82 L182.42,295.60 L181.93,295.32 L181.46,294.99 L181.01,294.60 L180.58,294.16 L180.18,293.67 L179.79,293.12Z M182.02,292.44 L182.32,292.86 L182.64,293.24 L182.98,293.57 L183.35,293.88 L183.74,294.14 L184.16,294.36 L184.60,294.54 L185.04,294.69 L185.50,294.79 L185.96,294.85 L186.44,294.87 L186.92,294.85 L187.41,294.79 L187.87,294.70 L188.32,294.57 L188.75,294.41 L189.16,294.21 L189.55,293.98 L190.79,293.18 L189.05,290.61 L188.68,290.08 L188.33,289.61 L187.98,289.20 L187.65,288.84 L187.34,288.54 L187.03,288.29 L186.73,288.10 L186.42,287.93 L186.11,287.80 L185.79,287.71 L185.47,287.66 L185.14,287.63 L184.80,287.65 L184.46,287.71 L184.11,287.81 L183.75,287.95 L183.39,288.13 L183.01,288.36 L182.63,288.63 L182.30,288.92 L182.03,289.22 L181.81,289.53 L181.64,289.87 L181.53,290.21 L181.47,290.57 L181.47,290.93 L181.52,291.30 L181.63,291.67 L181.80,292.05 L182.02,292.44Z M194.51,312.70 L192.37,310.11 L194.35,306.87 L196.33,303.63 L198.32,300.38 L200.30,297.14 L202.28,293.90 L204.21,296.23 L202.00,299.68 L199.79,303.12 L197.58,306.57 L197.41,306.82 L197.15,307.20 L196.81,307.69 L196.37,308.31 L195.85,309.05 L195.24,309.91 L197.09,309.10 L198.99,308.33 L202.83,306.84 L206.67,305.35 L210.50,303.86 L212.42,306.19Z M209.84,317.25 L209.18,317.98 L208.62,318.71 L208.16,319.43 L207.81,320.14 L207.56,320.83 L207.41,321.52 L207.37,322.19 L207.44,322.84 L207.61,323.46 L207.90,324.06 L208.30,324.64 L208.80,325.19 L209.25,325.59 L209.69,325.93 L210.14,326.20 L210.58,326.42 L211.03,326.58 L211.47,326.68 L211.92,326.73 L212.34,326.73 L212.76,326.69 L213.16,326.61 L213.55,326.48 L213.93,326.30 L215.21,328.57 L213.86,329.08 L212.52,329.26 L211.19,329.13 L209.87,328.67 L208.56,327.90 L207.25,326.80 L206.42,325.92 L205.76,325.00 L205.26,324.06 L204.92,323.10 L204.75,322.11 L204.74,321.10 L204.90,320.06 L205.23,319.01 L205.72,317.94 L206.38,316.86 L207.21,315.76 L208.21,314.64 L209.24,313.65 L210.27,312.82 L211.30,312.15 L212.32,311.64 L213.35,311.29 L214.37,311.10 L215.38,311.07 L216.37,311.20 L217.34,311.49 L218.28,311.93 L219.20,312.54 L220.09,313.31 L221.56,315.10 L222.37,316.98 L222.50,318.95 L221.96,321.01 L220.76,323.16 L218.89,325.41 L218.61,325.69Z M218.09,322.01 L218.64,321.29 L219.10,320.59 L219.46,319.92 L219.73,319.28 L219.90,318.66 L219.97,318.07 L219.96,317.51 L219.85,316.95 L219.65,316.41 L219.37,315.88 L218.99,315.37 L218.53,314.87 L218.02,314.44 L217.49,314.10 L216.94,313.85 L216.37,313.69 L215.78,313.62 L215.16,313.65 L214.54,313.76 L213.92,313.96 L213.30,314.24 L212.68,314.62 L212.07,315.07 L211.45,315.62Z"/>
</g>
<g font-family="Liberation Sans, sans-serif" font-size="33" fill="#fff" fill-opacity="0" text-anchor="middle">
<text><textPath href="#a1" startOffset="49%">Good People</textPath></text>
<text><textPath href="#a2" startOffset="52%">Good Divers</textPath></text>
<text><textPath href="#a3" startOffset="50%">Good Wave</textPath></text>
</g>
<g fill="#2c69b5">
<g mask="url(#dm)">
<g clip-path="url(#lg1)">
<path d="M288.30,223.20 A15.70,15.15 0 0 1 319.70,223.20 L311.40,223.20 A7.40,7.14 0 0 0 296.60,223.20 Z"/>
<path d="M273.70,223.20 A30.30,29.24 0 0 1 334.30,223.20 L324.90,223.20 A20.90,20.17 0 0 0 283.10,223.20 Z"/>
<path d="M258.60,223.20 A45.40,43.81 0 0 1 349.40,223.20 L339.70,223.20 A35.70,34.45 0 0 0 268.30,223.20 Z"/>
</g>
<g clip-path="url(#lg2)">
<path d="M319.30,187.80 A15.70,15.15 0 0 0 350.70,187.80 L342.40,187.80 A7.40,7.14 0 0 1 327.60,187.80 Z"/>
<path d="M304.70,187.80 A30.30,29.24 0 0 0 365.30,187.80 L355.90,187.80 A20.90,20.17 0 0 1 314.10,187.80 Z"/>
<path d="M289.60,187.80 A45.40,43.81 0 0 0 380.40,187.80 L370.70,187.80 A35.70,34.45 0 0 1 299.30,187.80 Z"/>
</g>
</g>
<circle cx="280.60" cy="184.30" r="10.5"/>
<circle cx="358.40" cy="226.70" r="10.5"/>
</g>
</svg>
</body></html>
